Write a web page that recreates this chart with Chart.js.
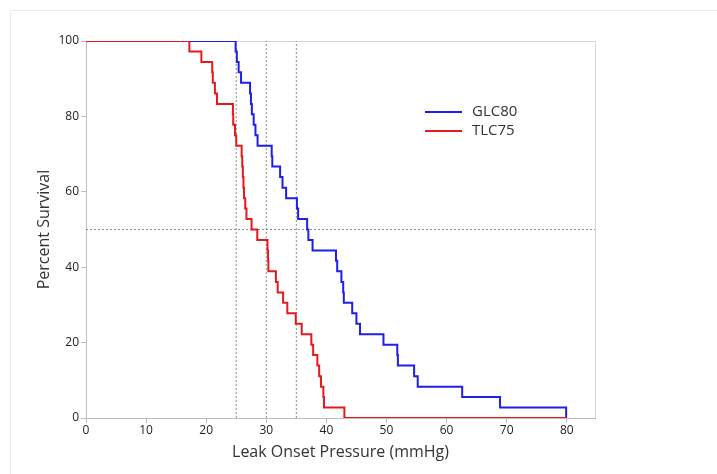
<!DOCTYPE html>
<html>
<head>
<meta charset="utf-8">
<script src="https://cdn.jsdelivr.net/npm/chart.js@4/dist/chart.umd.min.js"></script>
<style>
    html, body { margin: 0; padding: 0; background: #fff; }
    #wrap { position: relative; width: 717px; height: 474px; overflow: hidden; }
    #frame { position: absolute; left: 10px; top: 10px; width: 720px; height: 470px; border: 1px solid #ececec; }
    #km { position: absolute; left: 0; top: 0; }
</style>
</head>
<body>
<div id="wrap">
    <div id="frame"></div>
    <canvas id="km" width="717" height="474"></canvas>
</div>
<script>
// Kaplan-Meier steps (pressure in mmHg, survival in %)
const glcPressure = [0, 24.9, 25.1, 25.4, 25.8, 27.3, 27.45, 27.6, 27.9, 28.2, 28.55, 30.9, 31.0, 32.3, 32.7, 33.3,
    35.1, 35.3, 36.8, 37.0, 37.7, 41.6, 41.8, 42.5, 42.8, 42.9, 44.3, 45.0, 45.6, 49.5, 51.8, 51.9, 54.6, 55.2,
    62.6, 68.9, 79.9];
const glcSurvival = [100, 97.2, 94.4, 91.7, 88.9, 86.1, 83.3, 80.6, 77.8, 75.0, 72.2, 69.4, 66.7, 63.9, 61.1, 58.3,
    55.6, 52.8, 50.0, 47.2, 44.4, 41.7, 38.9, 36.1, 33.3, 30.6, 27.8, 25.0, 22.2, 19.4, 16.7, 13.9, 11.1, 8.3,
    5.6, 2.8, 0];

const tlcPressure = [0, 17.2, 19.2, 21.0, 21.1, 21.45, 21.8, 24.45, 24.5, 24.8, 25.0, 25.9, 26.0, 26.1, 26.2, 26.3,
    26.5, 26.7, 27.55, 28.5, 30.2, 30.3, 30.35, 31.6, 31.9, 32.8, 33.5, 34.9, 35.9, 37.5, 37.8, 38.5, 38.8, 39.1,
    39.5, 39.6, 43.0, 80];
const tlcSurvival = [100, 97.2, 94.4, 91.7, 88.9, 86.1, 83.3, 80.6, 77.8, 75.0, 72.2, 69.4, 66.7, 63.9, 61.1, 58.3,
    55.6, 52.8, 50.0, 47.2, 44.4, 41.7, 38.9, 36.1, 33.3, 30.6, 27.8, 25.0, 22.2, 19.4, 16.7, 13.9, 11.1, 8.3,
    5.6, 2.8, 0, 0];

const seriesLabels = ['GLC80', 'TLC75'];
const refPressures = [25, 30, 35];
const refSurvival = 50;

const xTicks = [0, 10, 20, 30, 40, 50, 60, 70, 80];
const yTicks = [0, 20, 40, 60, 80, 100];
const xMin = 0, xMax = 84.7;
const yMin = 0, yMax = 100;

function toPoints(xs, ys) {
    return xs.map((x, i) => ({ x: x, y: ys[i] }));
}

const refStyle = {
    borderColor: '#8c8c8c',
    borderWidth: 1,
    borderDash: [2, 2],
    pointRadius: 0,
    fill: false,
    order: 10
};

const datasets = [
    {
        label: seriesLabels[1],
        data: toPoints(tlcPressure, tlcSurvival),
        borderColor: '#e41a1c',
        borderWidth: 2,
        stepped: 'before',
        pointRadius: 0,
        fill: false,
        order: 1
    },
    {
        label: seriesLabels[0],
        data: toPoints(glcPressure, glcSurvival),
        borderColor: '#1f1fe8',
        borderWidth: 2,
        stepped: 'before',
        pointRadius: 0,
        fill: false,
        order: 2
    },
    Object.assign({ label: 'ref50', data: [{ x: xMin, y: refSurvival }, { x: xMax, y: refSurvival }] }, refStyle)
];
refPressures.forEach(p => {
    datasets.push(Object.assign({ label: 'ref' + p, data: [{ x: p, y: yMin }, { x: p, y: yMax }] }, refStyle));
});

// light frame on top/right of plot area
const framePlugin = {
    id: 'frame',
    beforeDatasetsDraw(chart) {
        const a = chart.chartArea;
        const ctx = chart.ctx;
        ctx.save();
        ctx.strokeStyle = '#d6d6d6';
        ctx.lineWidth = 1;
        ctx.beginPath();
        ctx.moveTo(a.left, a.top + 0.5);
        ctx.lineTo(a.right + 0.5, a.top + 0.5);
        ctx.lineTo(a.right + 0.5, a.bottom);
        ctx.stroke();
        ctx.restore();
    }
};

// legend drawn inside the plot like the original
const legendPlugin = {
    id: 'insideLegend',
    afterDraw(chart) {
        const ctx = chart.ctx;
        const order = [1, 0]; // GLC80 first, then TLC75
        ctx.save();
        ctx.font = '15px "Open Sans", sans-serif';
        ctx.textBaseline = 'middle';
        order.forEach((di, row) => {
            const ds = chart.data.datasets[di];
            const y = 112 + row * 19;
            ctx.strokeStyle = ds.borderColor;
            ctx.lineWidth = 2;
            ctx.beginPath();
            ctx.moveTo(425, y);
            ctx.lineTo(462, y);
            ctx.stroke();
            ctx.fillStyle = '#333';
            ctx.fillText(ds.label, 472, y);
        });
        ctx.restore();
    }
};

new Chart(document.getElementById('km'), {
    type: 'line',
    data: { datasets: datasets },
    options: {
        responsive: false,
        animation: false,
        layout: { padding: { left: 0, top: 41, right: 122, bottom: 0 } },
        plugins: {
            legend: { display: false },
            tooltip: { enabled: false }
        },
        scales: {
            x: {
                type: 'linear',
                min: xMin,
                max: xMax,
                afterBuildTicks: s => { s.ticks = xTicks.map(v => ({ value: v })); },
                afterFit: s => { s.height = 56; },
                border: { color: '#bdbdbd' },
                grid: { drawOnChartArea: false, tickLength: 5, color: '#bdbdbd' },
                ticks: { color: '#222', font: { family: 'Open Sans', size: 12 }, padding: 0, maxRotation: 0 },
                title: {
                    display: true,
                    text: 'Leak Onset Pressure (mmHg)',
                    color: '#333',
                    font: { family: 'Open Sans', size: 16 },
                    padding: { top: 2, bottom: 12 }
                }
            },
            y: {
                min: yMin,
                max: yMax,
                afterBuildTicks: s => { s.ticks = yTicks.map(v => ({ value: v })); },
                afterFit: s => { s.width = 86; },
                border: { color: '#bdbdbd' },
                grid: { drawOnChartArea: false, tickLength: 5, color: '#bdbdbd' },
                ticks: { color: '#222', font: { family: 'Open Sans', size: 12 }, padding: 2 },
                title: {
                    display: true,
                    text: 'Percent Survival',
                    color: '#333',
                    font: { family: 'Open Sans', size: 16 },
                    padding: { top: 35, bottom: 0 }
                }
            }
        }
    },
    plugins: [framePlugin, legendPlugin]
});
</script>
</body>
</html>
